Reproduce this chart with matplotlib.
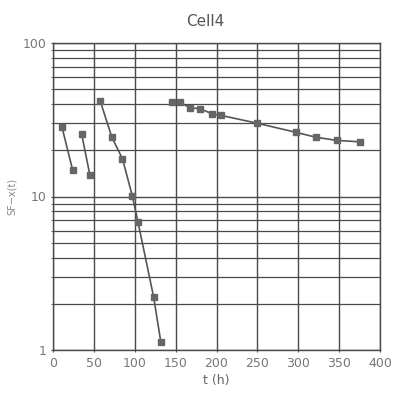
import matplotlib
matplotlib.use("Agg")
import matplotlib.pyplot as plt
from matplotlib.ticker import LogLocator, FixedLocator, NullFormatter

t1 = [11, 24]
y1 = [28.3, 14.9]
t2 = [35, 45]
y2 = [25.6, 13.9]
t3 = [58, 72, 85, 97, 104, 123, 132]
y3 = [41.6, 24.3, 17.6, 10.1, 6.8, 2.23, 1.12]
t4 = [145, 155, 168, 180, 195, 205, 250, 297, 322, 347, 376]
y4 = [41.0, 41.0, 37.8, 37.3, 34.5, 33.8, 30.0, 26.2, 24.3, 23.2, 22.7]

xticks = [0, 50, 100, 150, 200, 250, 300, 350, 400]
yticks = [1, 10, 100]

fig = plt.figure(figsize=(3.94, 3.93), dpi=100)
ax = fig.add_axes([0.1345, 0.1094, 0.83, 0.7812])
ax.set_yscale("log")
ax.set_xlim(0, 400)
ax.set_ylim(1, 100)

gridc = "#4a4a4a"
ax.xaxis.set_major_locator(FixedLocator(xticks))
ax.yaxis.set_major_locator(FixedLocator(yticks))
ax.yaxis.set_minor_locator(LogLocator(base=10, subs=range(2, 10)))
ax.yaxis.set_minor_formatter(NullFormatter())
ax.set_yticklabels([str(v) for v in yticks])
ax.grid(True, which="major", color=gridc, lw=1.0)
ax.grid(True, which="minor", axis="y", color=gridc, lw=0.9)
ax.set_axisbelow(True)

for s in ax.spines.values():
    s.set_color(gridc)
    s.set_linewidth(1.0)

ax.tick_params(axis="both", which="both", colors=gridc, labelcolor="#777777",
               labelsize=9, length=3, direction="inout")

for t, y in [(t1, y1), (t2, y2), (t3, y3), (t4, y4)]:
    ax.plot(t, y, color="#555555", lw=1.2, marker="s", ms=5,
            mfc="#666666", mec="#666666")

fig.text(0.52, 0.945, "Cell4", fontsize=11, color="#555555", ha="center", va="center")
ax.set_xlabel("t (h)", fontsize=9, color="#666666", labelpad=3)
ax.set_ylabel("SF\u2212x(t)", fontsize=7, color="#888888", labelpad=4)

fig.savefig("out.png", dpi=100)
